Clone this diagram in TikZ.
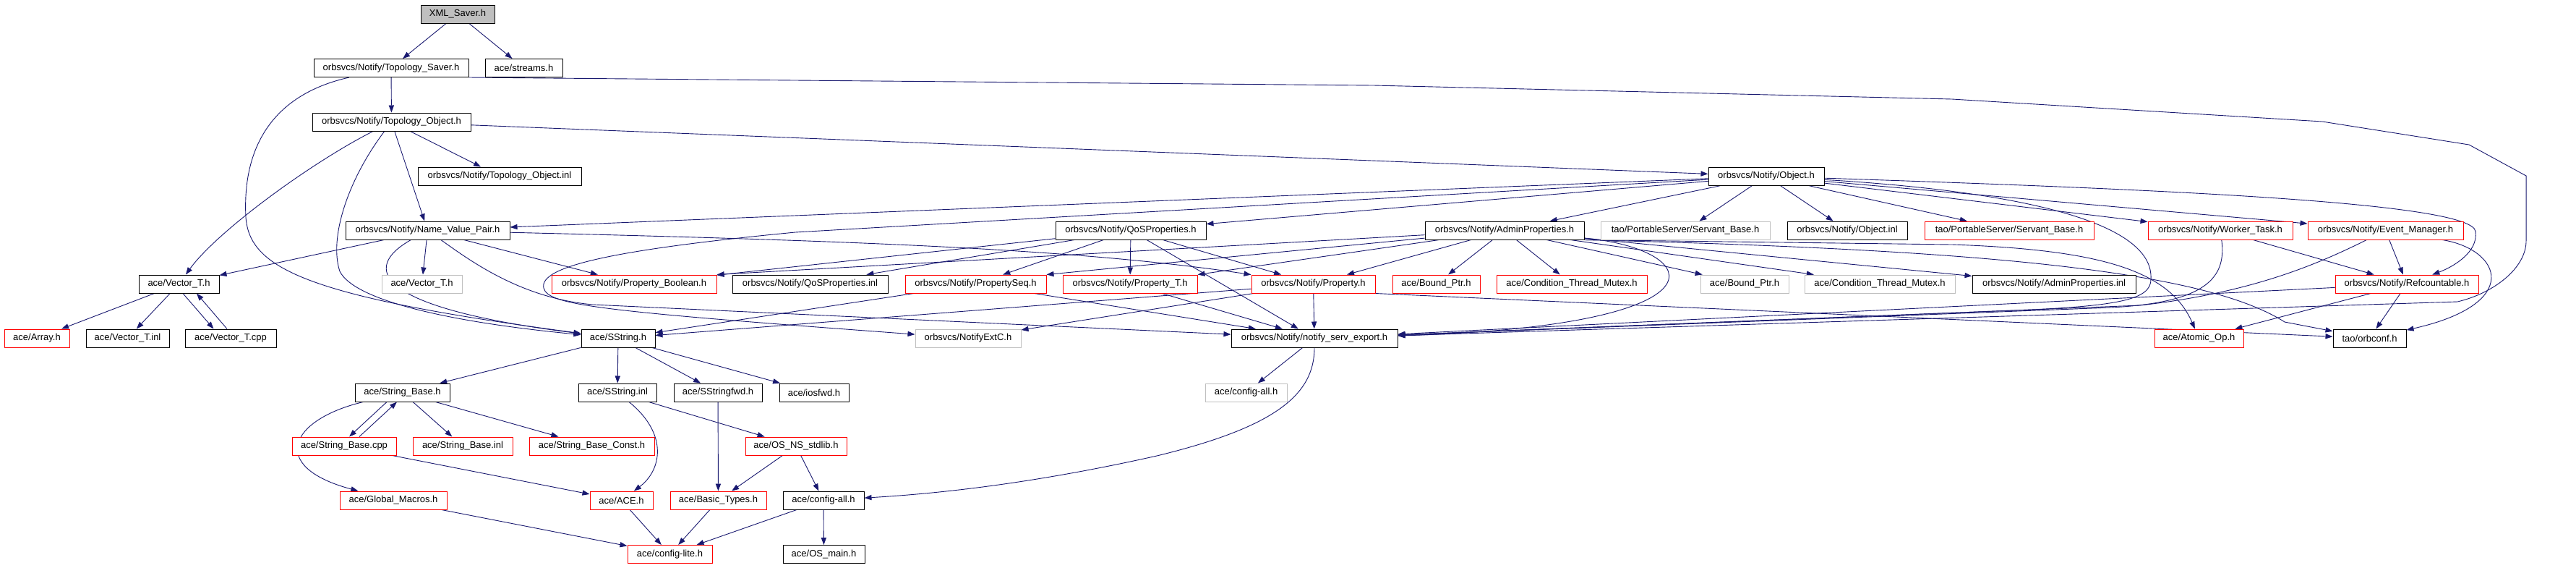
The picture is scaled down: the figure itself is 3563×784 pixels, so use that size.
\documentclass[tikz,border=0pt]{standalone}
\usepackage{fontspec}
\setmainfont{Liberation Sans}
\usetikzlibrary{arrows.meta,backgrounds}
\definecolor{edgec}{RGB}{25,25,112}
\definecolor{graybd}{RGB}{191,191,191}
\begin{document}
\begin{tikzpicture}[x=0.5pt,y=-0.5pt,
  nd/.style={draw=black, line width=0.5pt, minimum height=12.5pt, inner sep=0pt, fill=white,
     font=\fontsize{6.5pt}{7.5pt}\selectfont},
  rd/.style={nd, draw=red},
  gr/.style={nd, draw=graybd},
  dep/.style={draw=edgec, line width=0.45pt, -{Triangle[length=5pt,width=3.6pt]}}]
\useasboundingbox (0,0) rectangle (3563,784);
% row 0
\node[nd, fill=graybd, minimum width=51pt] (xml) at (633,19.5) {XML\_Saver.h};
% row 1
\node[nd, minimum width=107pt] (tsaver) at (541,94) {orbsvcs/Notify/Topology\_Saver.h};
\node[nd, minimum width=53.5pt] (streams) at (724.5,94) {ace/streams.h};
% row 2
\node[nd, minimum width=109.5pt] (tobj) at (541.5,168.5) {orbsvcs/Notify/Topology\_Object.h};
% row 3
\node[nd, minimum width=113pt] (tobjinl) at (691,243.5) {orbsvcs/Notify/Topology\_Object.inl};
\node[nd, minimum width=80pt] (obj) at (2443,243.5) {orbsvcs/Notify/Object.h};
% row 4
\node[nd, minimum width=113.5pt] (nvp) at (591.5,318.5) {orbsvcs/Notify/Name\_Value\_Pair.h};
\node[nd, minimum width=104pt] (qos) at (1564,318.5) {orbsvcs/Notify/QoSProperties.h};
\node[nd, minimum width=110pt] (admin) at (2081,318.5) {orbsvcs/Notify/AdminProperties.h};
\node[gr, minimum width=117pt] (sbg) at (2331,318.5) {tao/PortableServer/Servant\_Base.h};
\node[nd, minimum width=83pt] (objinl) at (2555,318.5) {orbsvcs/Notify/Object.inl};
\node[rd, minimum width=117pt] (sbr) at (2779,318.5) {tao/PortableServer/Servant\_Base.h};
\node[rd, minimum width=100pt] (worker) at (3071,318.5) {orbsvcs/Notify/Worker\_Task.h};
\node[rd, minimum width=107.5pt] (evm) at (3299.5,318.5) {orbsvcs/Notify/Event\_Manager.h};
% row 5
\node[nd, minimum width=55.5pt] (vect) at (247.5,392.5) {ace/Vector\_T.h};
\node[gr, minimum width=55.5pt] (vectg) at (583.5,392.5) {ace/Vector\_T.h};
\node[rd, minimum width=114pt] (pbool) at (877,392.5) {orbsvcs/Notify/Property\_Boolean.h};
\node[nd, minimum width=107.5pt] (qosinl) at (1120.5,392.5) {orbsvcs/Notify/QoSProperties.inl};
\node[rd, minimum width=97.5pt] (pseq) at (1349.5,392.5) {orbsvcs/Notify/PropertySeq.h};
\node[rd, minimum width=93pt] (propt) at (1563,392.5) {orbsvcs/Notify/Property\_T.h};
\node[rd, minimum width=85.5pt] (prop) at (1816.5,392.5) {orbsvcs/Notify/Property.h};
\node[rd, minimum width=60.5pt] (bptr) at (1986.5,392.5) {ace/Bound\_Ptr.h};
\node[rd, minimum width=104pt] (ctm) at (2174,392.5) {ace/Condition\_Thread\_Mutex.h};
\node[gr, minimum width=61pt] (bptrg) at (2413,392.5) {ace/Bound\_Ptr.h};
\node[gr, minimum width=104pt] (ctmg) at (2600,392.5) {ace/Condition\_Thread\_Mutex.h};
\node[nd, minimum width=113pt] (admininl) at (2841,392.5) {orbsvcs/Notify/AdminProperties.inl};
\node[rd, minimum width=99pt] (refc) at (3329,392.5) {orbsvcs/Notify/Refcountable.h};
% row 6
\node[rd, minimum width=45pt] (array) at (51,467.5) {ace/Array.h};
\node[nd, minimum width=57.5pt] (vecinl) at (176.5,467.5) {ace/Vector\_T.inl};
\node[nd, minimum width=63pt] (veccpp) at (319,467.5) {ace/Vector\_T.cpp};
\node[nd, minimum width=51pt] (sstr) at (855,467.5) {ace/SString.h};
\node[gr, minimum width=73pt] (extc) at (1339,467.5) {orbsvcs/NotifyExtC.h};
\node[nd, minimum width=115pt] (nse) at (1818,467.5) {orbsvcs/Notify/notify\_serv\_export.h};
\node[rd, minimum width=61.5pt] (atomic) at (3041.5,467.5) {ace/Atomic\_Op.h};
\node[nd, minimum width=50.5pt] (orbconf) at (3277.5,467.5) {tao/orbconf.h};
% row 7
\node[nd, minimum width=65.5pt] (strbase) at (556.5,542.5) {ace/String\_Base.h};
\node[nd, minimum width=54pt] (sstrinl) at (854,542.5) {ace/SString.inl};
\node[nd, minimum width=61pt] (sstrfwd) at (993,542.5) {ace/SStringfwd.h};
\node[nd, minimum width=48pt] (iosfwd) at (1126,542.5) {ace/iosfwd.h};
\node[gr, minimum width=56.5pt] (cfgallg) at (1723.5,542.5) {ace/config-all.h};
% row 8
\node[rd, minimum width=72pt] (sbcpp) at (476,616.5) {ace/String\_Base.cpp};
\node[rd, minimum width=69pt] (sbinl) at (640,616.5) {ace/String\_Base.inl};
\node[rd, minimum width=86.5pt] (sbconst) at (818.5,616.5) {ace/String\_Base\_Const.h};
\node[rd, minimum width=70pt] (osns) at (1101,616.5) {ace/OS\_NS\_stdlib.h};
% row 9
\node[rd, minimum width=74pt] (gmac) at (544,691.5) {ace/Global\_Macros.h};
\node[rd, minimum width=43.5pt] (ace) at (859.5,691.5) {ace/ACE.h};
\node[rd, minimum width=66.5pt] (btypes) at (993.5,691.5) {ace/Basic\_Types.h};
\node[nd, minimum width=56pt] (cfgall) at (1139,691.5) {ace/config-all.h};
% row 10
\node[rd, minimum width=58.5pt] (cfglite) at (926.5,766) {ace/config-lite.h};
\node[nd, minimum width=56.5pt] (osmain) at (1139.5,766) {ace/OS\_main.h};

\begin{scope}[on background layer]
\fill[white] (0,0) rectangle (3563,784);
% XML_Saver
\draw[dep] (xml) -- (tsaver);
\draw[dep] (xml) -- (streams);
% Topology_Saver
\draw[dep] (tsaver) -- (tobj);
\draw[dep] (tsaver) .. controls (380,130) and (335,200) .. (340,300) .. controls (345,370) and (420,410) .. (sstr);
\draw[dep] (tsaver.south east) -- (1100,111) -- (1900,118) -- (2700,137) -- (3212,168) -- (3415,200) -- (3494,243) -- (3494,333) .. controls (3494,370) and (3450,405) .. (3399,417) -- (nse);
% Topology_Object
\draw[dep] (tobj) -- (tobjinl);
\draw[dep] (tobj) -- (obj);
\draw[dep] (tobj) -- (nvp);
\draw[dep] (tobj) .. controls (430,225) and (300,320) .. (vect);
\draw[dep] (tobj) .. controls (480,250) and (455,330) .. (470,375) .. controls (490,415) and (620,445) .. (sstr);
% Name_Value_Pair
\draw[dep] (nvp) -- (vect);
\draw[dep] (nvp) -- (vectg);
\draw[dep] (nvp) .. controls (500,370) and (515,425) .. (sstr);
\draw[dep] (nvp) -- (pbool);
\draw[dep] (nvp) .. controls (650,360) and (720,412) .. (820,421) -- (nse);
\draw[dep] (nvp) .. controls (1200,333) and (1500,345) .. (prop);
% Object
\draw[dep] (obj) -- (nvp);
\draw[dep] (obj) -- (qos);
\draw[dep] (obj) -- (admin);
\draw[dep] (obj) -- (sbg);
\draw[dep] (obj) -- (objinl);
\draw[dep] (obj) -- (sbr);
\draw[dep] (obj) -- (worker);
\draw[dep] (obj) -- (evm);
\draw[dep] (obj) .. controls (3000,262) and (3420,280) .. (3424,320) .. controls (3428,350) and (3390,370) .. (refc);
\draw[dep] (obj) .. controls (2850,268) and (2978,320) .. (2975,385) .. controls (2976,415) and (2930,424) .. (2760,430) -- (nse);
\draw[dep] (obj) -- (1100,321) .. controls (850,345) and (745,368) .. (752,398) .. controls (758,422) and (830,430) .. (extc);
% QoSProperties
\draw[dep] (qos) -- (pbool);
\draw[dep] (qos) -- (qosinl);
\draw[dep] (qos) -- (pseq);
\draw[dep] (qos) -- (propt);
\draw[dep] (qos) -- (prop);
\draw[dep] (qos) -- (nse);
% AdminProperties
\draw[dep] (admin) -- (pbool.north east);
\draw[dep] (admin) -- (pseq.north east);
\draw[dep] (admin) -- (propt.north east);
\draw[dep] (admin) -- (prop);
\draw[dep] (admin) -- (bptr);
\draw[dep] (admin) -- (ctm);
\draw[dep] (admin) -- (bptrg);
\draw[dep] (admin) -- (ctmg);
\draw[dep] (admin) -- (admininl);
\draw[dep] (admin.south east) -- (2700,338) .. controls (2900,345) and (3000,372) .. (atomic);
\draw[dep] (admin.south east) .. controls (2750,345) and (3050,375) .. (3160,445) -- (orbconf);
\draw[dep] (admin) .. controls (2360,345) and (2400,450) .. (nse);
% Property family
\draw[dep] (prop) -- (nse);
\draw[dep] (prop) -- (extc);
\draw[dep] (prop) -- (sstr);
\draw[dep] (prop.south east) -- (orbconf);
\draw[dep] (propt) -- (nse);
\draw[dep] (pseq) -- (nse);
\draw[dep] (pseq) -- (sstr);
% Worker_Task, Event_Manager, Refcountable
\draw[dep] (worker) .. controls (3080,385) and (3050,418) .. (2920,425) -- (nse);
\draw[dep] (worker) -- (refc);
\draw[dep] (evm) -- (refc);
\draw[dep] (evm) .. controls (3200,368) and (3110,405) .. (2960,422) -- (nse);
\draw[dep] (evm) .. controls (3460,345) and (3490,420) .. (orbconf);
\draw[dep] (refc) -- (atomic);
\draw[dep] (refc) -- (orbconf);
\draw[dep] (refc) -- (nse);
% Vector_T
\draw[dep] (vect) -- (array);
\draw[dep] (vect) -- (vecinl);
\draw[dep] ([xshift=2.75pt]vect.south) -- ([xshift=-11.75pt]veccpp.north);
\draw[dep] ([xshift=-2.5pt]veccpp.north) -- ([xshift=12.25pt]vect.south);
% SString
\draw[dep] (sstr) -- (strbase);
\draw[dep] (sstr) -- (sstrinl);
\draw[dep] (sstr) -- (sstrfwd);
\draw[dep] (sstr) -- (iosfwd);
% String_Base
\draw[dep] ([xshift=-10.75pt]strbase.south) -- ([xshift=3.5pt]sbcpp.north);
\draw[dep] ([xshift=10.5pt]sbcpp.north) -- ([xshift=-3.75pt]strbase.south);
\draw[dep] (strbase) -- (sbinl);
\draw[dep] (strbase) -- (sbconst);
\draw[dep] (strbase) .. controls (400,580) and (370,645) .. (gmac);
\draw[dep] (sbcpp) -- (ace);
% SString.inl etc.
\draw[dep] (sstrinl) .. controls (925,600) and (915,650) .. (ace);
\draw[dep] (sstrinl) -- (osns);
\draw[dep] (sstrfwd) -- (btypes);
\draw[dep] (osns) -- (btypes);
\draw[dep] (osns) -- (cfgall);
% bottom
\draw[dep] (gmac) -- (cfglite);
\draw[dep] (ace) -- (cfglite);
\draw[dep] (btypes) -- (cfglite);
\draw[dep] (cfgall) -- (cfglite);
\draw[dep] (cfgall) -- (osmain);
\draw[dep] (nse) -- (cfgallg);
\draw[dep] (nse) .. controls (1818,545) and (1765,590) .. (1600,630) .. controls (1430,668) and (1300,682) .. (cfgall);
\end{scope}
\end{tikzpicture}
\end{document}
